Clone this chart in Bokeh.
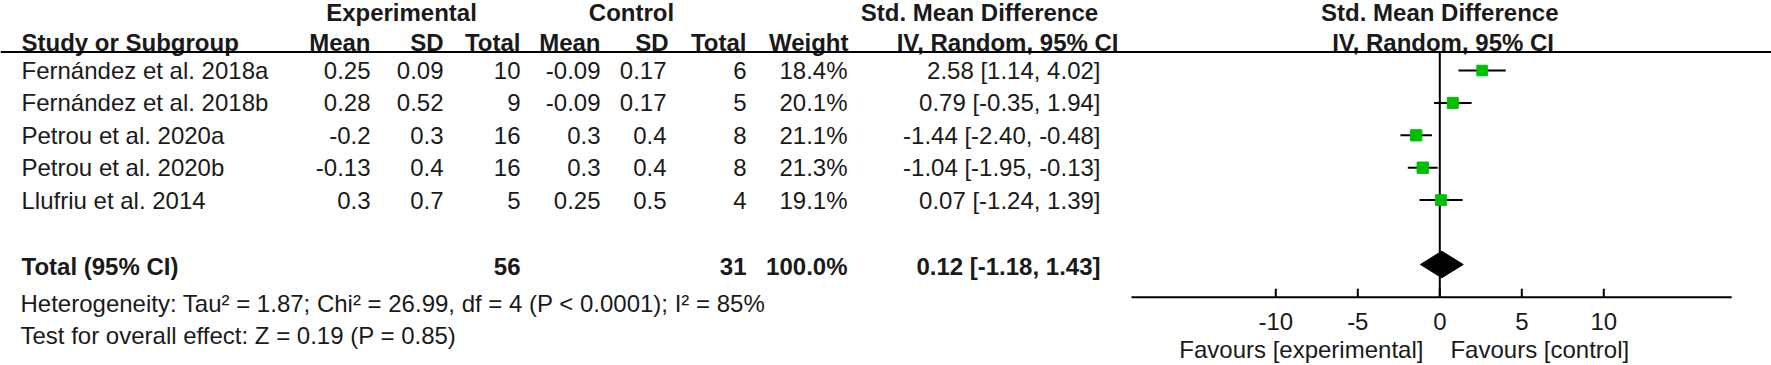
from bokeh.plotting import figure
from bokeh.models import Range1d
from bokeh.core.properties import value
from bokeh.embed import file_html
from bokeh.resources import INLINE

# ---------------- data ----------------
studies = ["Fernández et al. 2018a", "Fernández et al. 2018b", "Petrou et al. 2020a",
           "Petrou et al. 2020b", "Llufriu et al. 2014"]
exp_mean = [0.25, 0.28, -0.2, -0.13, 0.3]
exp_sd = [0.09, 0.52, 0.3, 0.4, 0.7]
exp_n = [10, 9, 16, 16, 5]
ctl_mean = [-0.09, -0.09, 0.3, 0.3, 0.25]
ctl_sd = [0.17, 0.17, 0.4, 0.4, 0.5]
ctl_n = [6, 5, 8, 8, 4]
weight = [18.4, 20.1, 21.1, 21.3, 19.1]
smd = [2.58, 0.79, -1.44, -1.04, 0.07]
ci_lo = [1.14, -0.35, -2.40, -1.95, -1.24]
ci_hi = [4.02, 1.94, -0.48, -0.13, 1.39]

total_exp_n = 56
total_ctl_n = 31
total_weight = 100.0
total_smd = 0.12
total_lo = -1.18
total_hi = 1.43

ticks = [-10, -5, 0, 5, 10]
heterogeneity = "Heterogeneity: Tau² = 1.87; Chi² = 26.99, df = 4 (P < 0.0001); I² = 85%"
overall = "Test for overall effect: Z = 0.19 (P = 0.85)"
fav_left = "Favours [experimental]"
fav_right = "Favours [control]"

# ---------------- layout / style ----------------
W, H = 1771, 365
FONT = value("Liberation Sans")
FS = "24px"
TC = "#1a1a1a"
GREEN = "#00bf00"
ZERO_PX = 1439.3
PX_PER = 16.4
AXIS_LO, AXIS_HI = -18.8, 17.8
ROW0, STEP = 70.0, 32.4
TOTAL_Y = 265.5
AXIS_Y = 296.7
HDR1_Y, HDR2_Y = 12.0, 42.0
LINE_Y = 51.5

p = figure(width=W, height=H, output_backend="svg", toolbar_location=None,
           x_range=Range1d(0, W), y_range=Range1d(H, 0),
           x_axis_type=None, y_axis_type=None, min_border=0)
p.min_border_left = p.min_border_right = p.min_border_top = p.min_border_bottom = 0
p.grid.visible = False
p.outline_line_color = None
p.background_fill_color = "white"
p.border_fill_color = "white"
p.extra_x_ranges = {"smd": Range1d((0 - ZERO_PX) / PX_PER, (W - ZERO_PX) / PX_PER)}


def txt(xs, ys, texts, align, bold=False, rng="default"):
    p.text(x=xs, y=ys, text=texts, text_align=align, text_baseline="middle",
           text_font=FONT, text_font_size=FS,
           text_font_style="bold" if bold else "normal",
           text_color=TC, x_range_name=rng)


rows_y = [ROW0 + i * STEP for i in range(len(studies))]
n = len(studies)

# headers
txt([401], [HDR1_Y], ["Experimental"], "center", True)
txt([631], [HDR1_Y], ["Control"], "center", True)
txt([979], [HDR1_Y], ["Std. Mean Difference"], "center", True)
txt([21], [HDR2_Y], ["Study or Subgroup"], "left", True)
hdr_cols = [("Mean", 370), ("SD", 443), ("Total", 520), ("Mean", 600), ("SD", 668),
            ("Total", 746), ("Weight", 848), ("IV, Random, 95% CI", 1118)]
for label, xr in hdr_cols:
    txt([xr], [HDR2_Y], [label], "right", True)

# forest header
txt([0], [HDR1_Y], ["Std. Mean Difference"], "center", True, "smd")
txt([0.2], [HDR2_Y], ["IV, Random, 95% CI"], "center", True, "smd")

# underline
p.segment(x0=[0], x1=[W], y0=[LINE_Y], y1=[LINE_Y], line_color="black", line_width=2)

# study rows
txt([21] * n, rows_y, studies, "left")
data_cols = [(exp_mean, 370), (exp_sd, 443), (exp_n, 520), (ctl_mean, 600),
             (ctl_sd, 666), (ctl_n, 746)]
for vals, xr in data_cols:
    txt([xr] * n, rows_y, [str(v) for v in vals], "right")
txt([847] * n, rows_y, [f"{w:.1f}%" for w in weight], "right")
txt([1100] * n, rows_y, [f"{m:.2f} [{a:.2f}, {b:.2f}]" for m, a, b in zip(smd, ci_lo, ci_hi)], "right")

# total row
txt([21], [TOTAL_Y], ["Total (95% CI)"], "left", True)
txt([520], [TOTAL_Y], [str(total_exp_n)], "right", True)
txt([746], [TOTAL_Y], [str(total_ctl_n)], "right", True)
txt([847], [TOTAL_Y], [f"{total_weight:.1f}%"], "right", True)
txt([1100], [TOTAL_Y], [f"{total_smd:.2f} [{total_lo:.2f}, {total_hi:.2f}]"], "right", True)

# footer texts
txt([20], [303], [heterogeneity], "left")
txt([20], [335], [overall], "left")

# ---------------- forest plot ----------------
p.segment(x0=[0], x1=[0], y0=[LINE_Y], y1=[AXIS_Y], line_color="black", line_width=2,
          x_range_name="smd")
p.segment(x0=ci_lo, x1=ci_hi, y0=rows_y, y1=rows_y, line_color="black", line_width=2,
          x_range_name="smd")
sizes = [2.45 * (w ** 0.5) for w in weight]
p.scatter(x=smd, y=rows_y, marker="square", size=sizes, fill_color=GREEN,
          line_color=GREEN, x_range_name="smd")
half_h = 13.3
dy = TOTAL_Y - 1.5
p.patch(x=[total_lo, total_smd, total_hi, total_smd],
        y=[dy, dy - half_h, dy, dy + half_h],
        fill_color="black", line_color="black", x_range_name="smd")
p.segment(x0=[AXIS_LO], x1=[AXIS_HI], y0=[AXIS_Y], y1=[AXIS_Y], line_color="black",
          line_width=2, x_range_name="smd")
p.segment(x0=ticks, x1=ticks, y0=[AXIS_Y - 8.5] * len(ticks), y1=[AXIS_Y] * len(ticks),
          line_color="black", line_width=2, x_range_name="smd")
txt(ticks, [321.0] * len(ticks), [str(t) for t in ticks], "center", False, "smd")
txt([-1.0], [348.5], [fav_left], "right", False, "smd")
txt([0.65], [348.5], [fav_right], "left", False, "smd")

open("out.html", "w").write(file_html(p, INLINE))
